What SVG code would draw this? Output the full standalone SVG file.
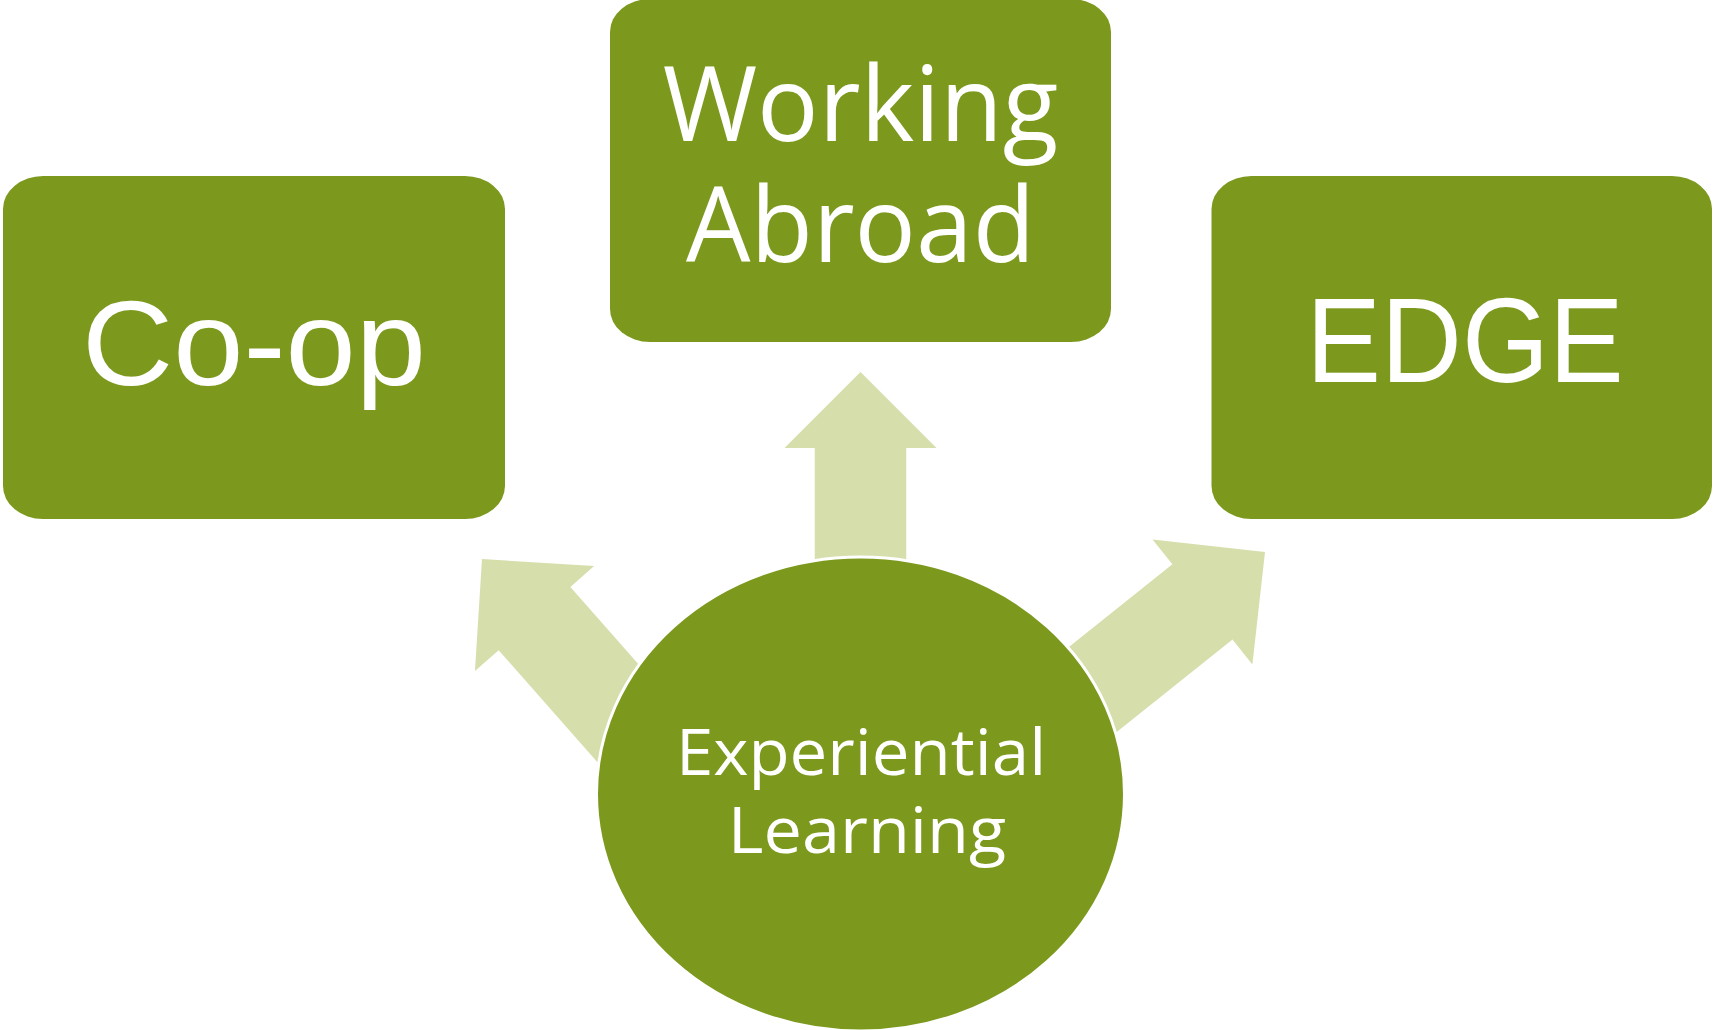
<svg xmlns="http://www.w3.org/2000/svg" width="1713" height="1030" viewBox="0 0 1713 1030">
<style>
.box{fill:#7C991D;}
.arrow{fill:#D6DEAC;}
.t1{font-family:"Liberation Sans",Arial,sans-serif;fill:#FFFFFF;text-anchor:middle;font-size:120px;}
.t2{font-family:"Open Sans","Noto Sans",sans-serif;fill:#FFFFFF;text-anchor:middle;}
</style>
<defs>
<path id="arr" d="M0,0 L76,76 L45.75,76 L45.75,330 L-45.75,330 L-45.75,76 L-76,76 Z"/>
</defs>
<rect width="1713" height="1030" fill="#FFFFFF"/>
<g id="connectors">
<use href="#arr" class="arrow" transform="translate(860.5,372)"/>
<use href="#arr" class="arrow" transform="translate(482,559) rotate(-41.4) scale(1.045)"/>
<use href="#arr" class="arrow" transform="translate(1265,552) rotate(51.4) scale(1.053)"/>
</g>
<g id="node-coop">
<rect class="box" x="3" y="176" width="502" height="343" rx="40" ry="33"/>
<text class="t1" x="0" y="385" transform="translate(254,0) scale(1.052,1)">Co-op</text>
</g>
<g id="node-working-abroad">
<rect class="box" x="610" y="-1" width="501" height="343" rx="40" ry="33"/>
<text class="t2" x="0" y="141" font-size="104" transform="translate(860.5,0) scale(0.984,1)">Working</text>
<text class="t2" x="0" y="262" font-size="104" transform="translate(860.5,0) scale(0.981,1)">Abroad</text>
</g>
<g id="node-edge">
<rect class="box" x="1211.5" y="176" width="500.5" height="343" rx="40" ry="33"/>
<text class="t1" x="0" y="382" transform="translate(1465,0) scale(0.933,1)">EDGE</text>
</g>
<g id="node-experiential">
<ellipse class="box" cx="860.5" cy="794" rx="264" ry="237" stroke="#FFFFFF" stroke-width="3"/>
<text class="t2" x="0" y="775" font-size="64" transform="translate(861,0) scale(1.051,1)">Experiential</text>
<text class="t2" x="0" y="853" font-size="64" transform="translate(867,0) scale(1.069,1)">Learning</text>
</g>
</svg>
